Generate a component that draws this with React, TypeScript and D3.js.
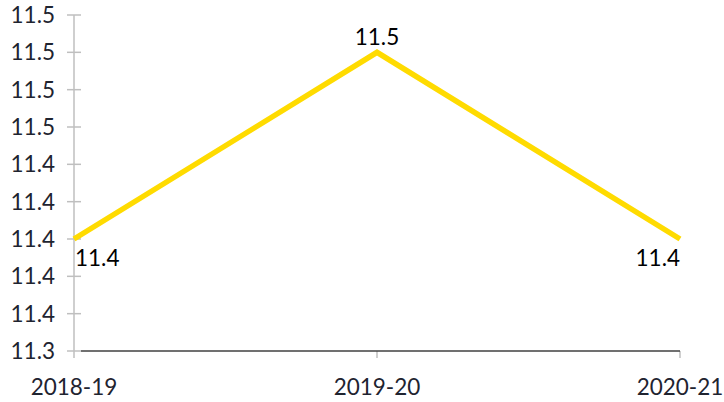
import React, { useRef, useEffect } from 'react';
import * as d3 from 'd3';

// Data
const years = ['2018-19', '2019-20', '2020-21'];
const values = [11.4, 11.5, 11.4];
const yTicks = [11.34, 11.36, 11.38, 11.4, 11.42, 11.44, 11.46, 11.48, 11.5, 11.52];

const W = 724;
const H = 402;
const FONT = 'Lato, "Open Sans", sans-serif';
const FS = 22.5;

const App = () => {
  const svgRef = useRef<SVGSVGElement | null>(null);

  useEffect(() => {
    const svg = d3.select(svgRef.current);
    svg.selectAll('*').remove();

    const margin = { top: 15, right: 44, bottom: 51, left: 74 };
    const x = d3.scalePoint<string>().domain(years).range([margin.left, W - margin.right]);
    const y = d3.scaleLinear().domain([11.34, 11.52]).range([H - margin.bottom, margin.top]);

    const g = svg.append('g');

    // y axis line + ticks
    g.append('line')
      .attr('x1', margin.left).attr('x2', margin.left)
      .attr('y1', y(11.52)).attr('y2', y(11.34))
      .attr('stroke', '#bfbfbf').attr('stroke-width', 1.5);
    g.selectAll('.ytick').data(yTicks).join('line')
      .attr('x1', margin.left - 7).attr('x2', margin.left + 7)
      .attr('y1', (d) => y(d)).attr('y2', (d) => y(d))
      .attr('stroke', '#bfbfbf').attr('stroke-width', 1.5);
    g.selectAll('.ylab').data(yTicks).join('text')
      .attr('x', 55).attr('y', (d) => y(d))
      .attr('dy', '0.35em')
      .attr('text-anchor', 'end')
      .attr('font-family', FONT).attr('font-size', FS).attr('fill', '#1f2430')
      .text((d) => d3.format('.1f')(d));

    // x axis
    g.selectAll('.xtick').data(years).join('line')
      .attr('x1', (d) => x(d)!).attr('x2', (d) => x(d)!)
      .attr('y1', y(11.34)).attr('y2', y(11.34) + 7)
      .attr('stroke', '#bfbfbf').attr('stroke-width', 1.5);
    g.append('line')
      .attr('x1', margin.left + 7).attr('x2', x(years[2])!)
      .attr('y1', y(11.34)).attr('y2', y(11.34))
      .attr('stroke', '#404040').attr('stroke-width', 1.5);
    g.selectAll('.xlab').data(years).join('text')
      .attr('x', (d) => x(d)!)
      .attr('y', 395)
      .attr('text-anchor', 'middle')
      .attr('font-family', FONT).attr('font-size', FS).attr('fill', '#1f2430')
      .text((d) => d);

    // line
    const line = d3.line<number>().x((_, i) => x(years[i])!).y((d) => y(d));
    g.append('path').datum(values)
      .attr('d', line)
      .attr('fill', 'none')
      .attr('stroke', '#ffdb00')
      .attr('stroke-width', 5.5);

    // data labels
    g.selectAll('.dlab').data(values).join('text')
      .attr('x', (_, i) => x(years[i])! + (i === 0 ? 1 : 0))
      .attr('y', (d, i) => (i === 1 ? y(d) - 7 : y(d) + 27))
      .attr('text-anchor', (_, i) => (i === 0 ? 'start' : i === 2 ? 'end' : 'middle'))
      .attr('font-family', FONT).attr('font-size', FS).attr('fill', '#000')
      .text((d) => d3.format('.1f')(d));
  }, []);

  return (
    <svg ref={svgRef} width={W} height={H} style={{ position: 'absolute', left: 0, top: 0, background: '#fff' }} />
  );
};

export default App;
